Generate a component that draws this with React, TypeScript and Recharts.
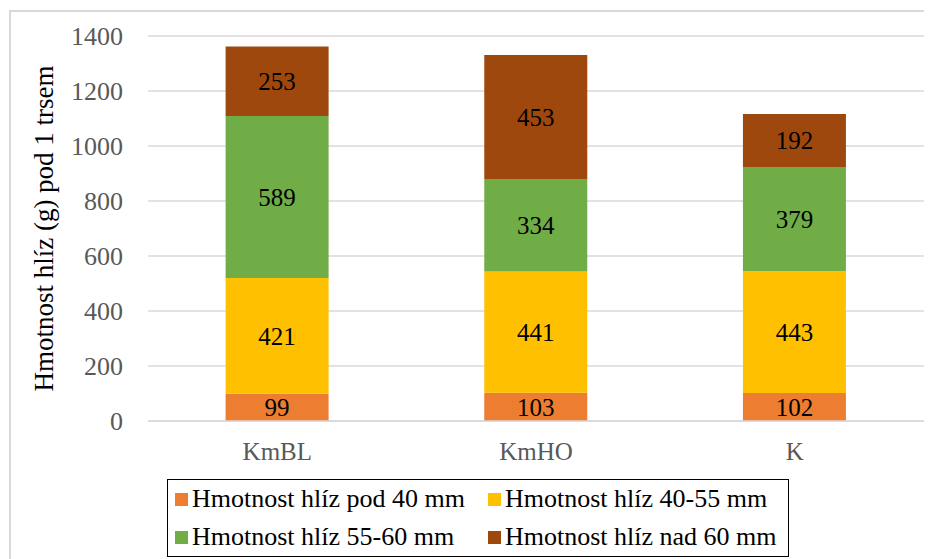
import { BarChart, Bar, XAxis, YAxis, CartesianGrid, LabelList } from 'recharts';

const categories = ['KmBL', 'KmHO', 'K'];
const under40 = [99, 103, 102];
const from40to55 = [421, 441, 443];
const from55to60 = [589, 334, 379];
const over60 = [253, 453, 192];
const yTicks = [0, 200, 400, 600, 800, 1000, 1200, 1400];

const series = [
  { key: 'under40', name: 'Hmotnost hlíz pod 40 mm', color: '#ED7D31', values: under40 },
  { key: 'from40to55', name: 'Hmotnost hlíz 40-55 mm', color: '#FFC000', values: from40to55 },
  { key: 'from55to60', name: 'Hmotnost hlíz 55-60 mm', color: '#70AD47', values: from55to60 },
  { key: 'over60', name: 'Hmotnost hlíz nad 60 mm', color: '#9E480E', values: over60 },
];

const data = categories.map((category, i) => {
  const row: Record<string, string | number> = { category };
  series.forEach((s) => {
    row[s.key] = s.values[i];
  });
  return row;
});

const font = '"Liberation Serif", "Times New Roman", serif';

export default function App() {
  return (
    <div style={{ position: 'relative', width: 932, height: 559, margin: '-8px 0 0 -8px', overflow: 'hidden', fontFamily: font, background: '#fff' }}>
      <div style={{ position: 'absolute', left: 9, top: 10, width: 940, height: 560, border: '2px solid #d9d9d9' }} />
      <div style={{ position: 'absolute', left: 0, top: 0 }}>
        <BarChart
          width={932}
          height={559}
          data={data}
          margin={{ top: 36, right: 8, left: 0, bottom: 98 }}
          barCategoryGap="30%"
          style={{ fontFamily: font }}
        >
          <CartesianGrid vertical={false} stroke="#d9d9d9" strokeWidth={1.5} />
          <XAxis
            dataKey="category"
            height={40}
            tickLine={false}
            axisLine={{ stroke: '#d9d9d9', strokeWidth: 1.5 }}
            tickMargin={15}
            tick={{ fill: '#595959', fontSize: 25, fontFamily: font }}
          />
          <YAxis
            width={148}
            domain={[0, 1400]}
            ticks={yTicks}
            interval={0}
            tickLine={false}
            axisLine={false}
            tickMargin={19}
            tick={{ fill: '#595959', fontSize: 26, fontFamily: font }}
            label={{
              value: 'Hmotnost hlíz (g) pod 1 trsem',
              angle: -90,
              position: 'insideLeft',
              dx: 38,
              style: { textAnchor: 'middle', fill: '#000', fontSize: 27, fontFamily: font },
            }}
          />
          {series.map((s) => (
            <Bar key={s.key} dataKey={s.key} name={s.name} stackId="a" fill={s.color} isAnimationActive={false}>
              <LabelList dataKey={s.key} position="center" fill="#000" fontSize={25} fontFamily={font} />
            </Bar>
          ))}
        </BarChart>
      </div>
      <div
        style={{
          position: 'absolute',
          left: 167,
          top: 479,
          width: 622,
          height: 78,
          border: '1.5px solid #000',
          display: 'grid',
          gridTemplateColumns: '313px 305px',
          gridTemplateRows: '1fr 1fr',
          alignItems: 'center',
          fontSize: 26,
          color: '#000',
          boxSizing: 'border-box',
        }}
      >
        {series.map((s) => (
          <div key={s.key} style={{ display: 'flex', alignItems: 'center', paddingLeft: 7, whiteSpace: 'nowrap' }}>
            <span style={{ display: 'inline-block', width: 13, height: 13, background: s.color, marginRight: 4, flexShrink: 0 }} />
            <span>{s.name}</span>
          </div>
        ))}
      </div>
    </div>
  );
}
